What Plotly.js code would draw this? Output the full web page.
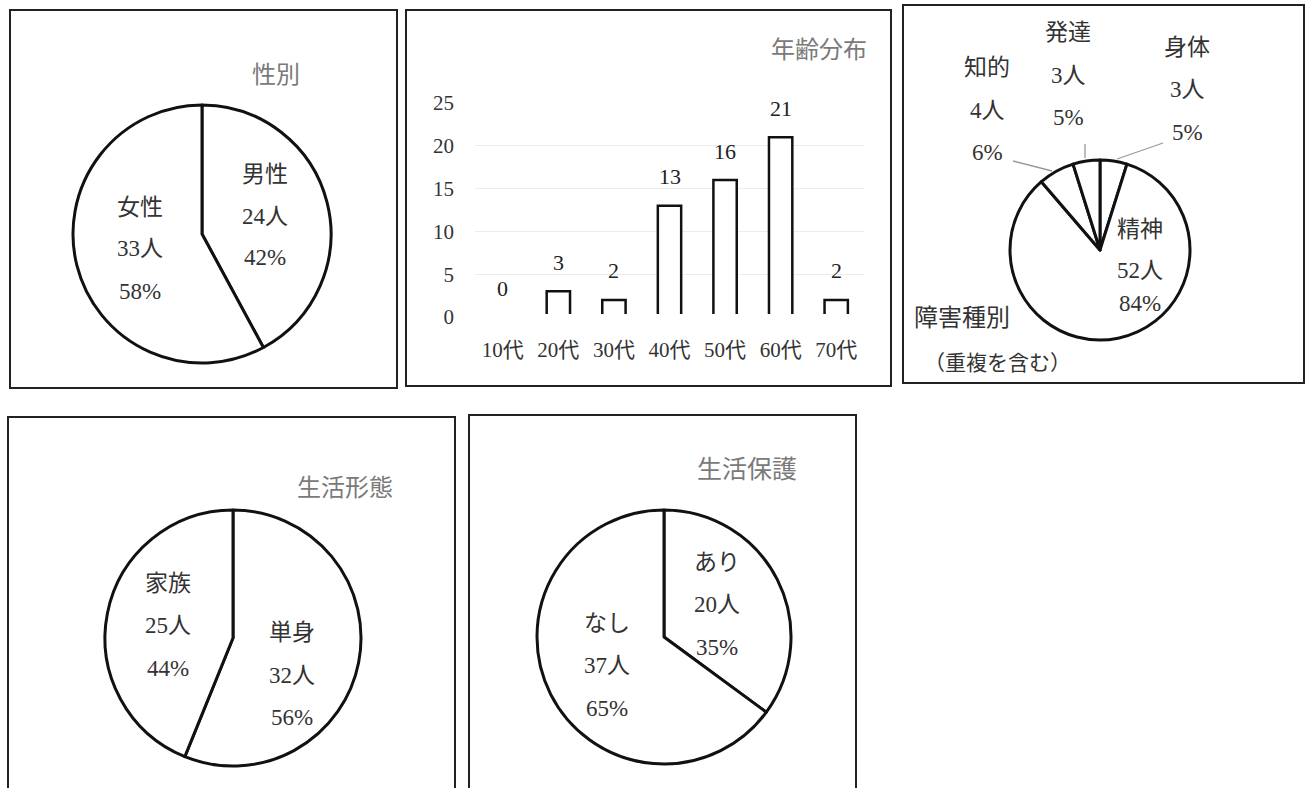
<!DOCTYPE html>
<html><head><meta charset="utf-8">
<script src="https://cdn.plot.ly/plotly-3.0.1.min.js"></script>
<style>body{margin:0;background:#fff}</style>
</head><body><div id="chart" style="width:1311px;height:788px"></div>
<script>
// ---- data ----
const genderLabels = ['男性', '女性'];
const genderValues = [24, 33];
const ageCategories = ['10代', '20代', '30代', '40代', '50代', '60代', '70代'];
const ageValues = [0, 3, 2, 13, 16, 21, 2];
const ageTicks = [0, 5, 10, 15, 20, 25];
const disabilityLabels = ['身体', '精神', '知的', '発達'];
const disabilityValues = [3, 52, 4, 3];
const livingLabels = ['単身', '家族'];
const livingValues = [32, 25];
const welfareLabels = ['あり', 'なし'];
const welfareValues = [20, 37];

// ---- helpers ----
const W = 1311, H = 788;
const px = x => x / W;
const py = y => 1 - y / H;
const FONT = '"Liberation Serif", "Noto Sans CJK JP", serif';
const TXT = '#333';
const TITLE = '#7a7a7a';

function pieTrace(labels, values, cx, cy, r) {
  return {
    type: 'pie', labels: labels, values: values, sort: false,
    direction: 'clockwise', rotation: 0, textinfo: 'none', hoverinfo: 'label+value+percent',
    marker: {colors: labels.map(() => '#ffffff'), line: {color: '#111', width: 3}},
    domain: {x: [px(cx - r), px(cx + r)], y: [py(cy + r), py(cy - r)]},
    showlegend: false
  };
}

const annotations = [];
function note(text, x, y, opts) {
  annotations.push(Object.assign({
    text: text, x: px(x), y: py(y), xref: 'paper', yref: 'paper',
    showarrow: false, xanchor: 'center', yanchor: 'middle',
    font: {family: FONT, size: 23, color: TXT}
  }, opts || {}));
}
function pieLabel(labels, values, idx, x, ys) {
  const total = values.reduce((a, b) => a + b, 0);
  const pct = Math.round(values[idx] / total * 100);
  note(labels[idx], x, ys[0]);
  note(values[idx] + '人', x, ys[1]);
  note(pct + '%', x, ys[2]);
}

const traces = [
  pieTrace(genderLabels, genderValues, 202, 234, 129),
  pieTrace(disabilityLabels, disabilityValues, 1100, 250, 90),
  pieTrace(livingLabels, livingValues, 233, 638, 128),
  pieTrace(welfareLabels, welfareValues, 664, 637, 127),
  {
    type: 'bar', x: ageCategories, y: ageValues, xaxis: 'x', yaxis: 'y',
    marker: {color: '#ffffff', line: {color: '#111', width: 2.5}},
    showlegend: false, hoverinfo: 'x+y'
  }
];

// pie labels
pieLabel(genderLabels, genderValues, 0, 265, [175, 217, 258]);
pieLabel(genderLabels, genderValues, 1, 140, [207, 249, 291]);
pieLabel(disabilityLabels, disabilityValues, 0, 1187, [48, 90, 133]);
pieLabel(disabilityLabels, disabilityValues, 1, 1140, [230, 270, 303]);
pieLabel(disabilityLabels, disabilityValues, 2, 987, [67, 110, 153]);
pieLabel(disabilityLabels, disabilityValues, 3, 1068, [32, 76, 118]);
pieLabel(livingLabels, livingValues, 0, 292, [632, 675, 717]);
pieLabel(livingLabels, livingValues, 1, 168, [583, 625, 668]);
pieLabel(welfareLabels, welfareValues, 0, 717, [562, 604, 647]);
pieLabel(welfareLabels, welfareValues, 1, 607, [623, 665, 708]);

// bar value labels
ageCategories.forEach((c, i) => {
  annotations.push({
    text: String(ageValues[i]), x: c, y: ageValues[i], xref: 'x', yref: 'y',
    yshift: 29, showarrow: false, xanchor: 'center', yanchor: 'middle',
    font: {family: FONT, size: 22, color: '#222'}
  });
});

// titles
note('性別', 276, 75, {font: {family: FONT, size: 24, color: TITLE}});
note('年齢分布', 819, 50, {font: {family: FONT, size: 24, color: TITLE}});
note('生活形態', 345, 488, {font: {family: FONT, size: 24, color: TITLE}});
note('生活保護', 747, 470, {font: {family: FONT, size: 25, color: TITLE}});
note('障害種別', 912, 318, {xanchor: 'left', font: {family: FONT, size: 24, color: '#333'}});
note('（重複を含む）', 922, 363, {xanchor: 'left', font: {family: FONT, size: 21, color: '#333'}});

// shapes: panel frames, leader lines
const shapes = [];
function frame(x0, y0, x1, y1) {
  shapes.push({type: 'rect', xref: 'paper', yref: 'paper',
    x0: px(x0), x1: px(x1), y0: py(y1), y1: py(y0),
    line: {color: '#222', width: 2}, fillcolor: 'rgba(0,0,0,0)', layer: 'below'});
}
frame(10, 10, 397, 388);
frame(406, 10, 891, 386);
frame(903, 5, 1304, 383);
frame(8, 417, 455, 800);
frame(469, 415, 856, 800);
function lead(x0, y0, x1, y1) {
  shapes.push({type: 'line', xref: 'paper', yref: 'paper',
    x0: px(x0), y0: py(y0), x1: px(x1), y1: py(y1),
    line: {color: '#999', width: 1.3}});
}
lead(1013, 161, 1052, 171);
lead(1085, 144, 1085, 158);
lead(1117, 159, 1163, 143);
// hide bar bottoms along the baseline
shapes.push({type: 'line', xref: 'paper', yref: 'y', x0: px(475), x1: px(864), y0: 0, y1: 0,
  line: {color: '#ffffff', width: 6}, layer: 'above'});

const layout = {
  width: W, height: H, margin: {l: 0, r: 0, t: 0, b: 0},
  paper_bgcolor: '#fff', plot_bgcolor: '#fff',
  font: {family: FONT, color: TXT},
  bargap: 0.58,
  xaxis: {domain: [px(475), px(864)], anchor: 'y', showline: false, ticks: '',
    tickfont: {family: FONT, size: 21, color: TXT}, ticklabelstandoff: 18, fixedrange: true},
  yaxis: {domain: [py(317), py(103)], anchor: 'x', range: [0, 25], tickvals: ageTicks,
    showgrid: true, gridcolor: '#ececec', gridwidth: 1, zeroline: false, showline: false,
    tickfont: {family: FONT, size: 21, color: TXT}, ticklabelstandoff: 20, fixedrange: true},
  annotations: annotations,
  shapes: shapes
};

Plotly.newPlot('chart', traces, layout, {displayModeBar: false, staticPlot: true});
</script>
</body></html>
